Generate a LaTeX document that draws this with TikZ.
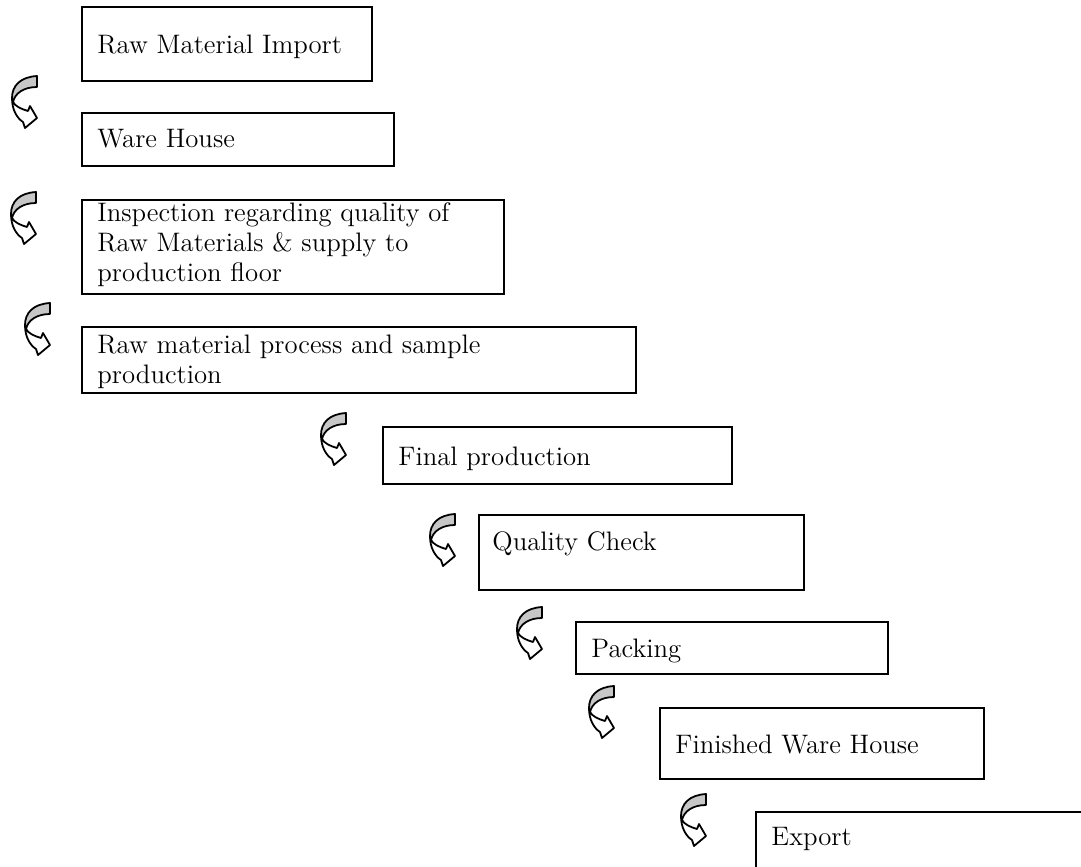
\documentclass[tikz,border=0pt]{standalone}
\usetikzlibrary{fit}

\begin{document}
\begin{tikzpicture}[x=0.449pt, y=-0.449pt,
    stepbox/.style={draw=black, line width=0.9pt, inner sep=0pt},
    steptxt/.style={anchor=north west, inner sep=0pt, align=left, font=\fontsize{12}{13.5}\selectfont, execute at begin node=\strut},
    turnarrow/.pic={
        \filldraw[fill=white, draw=black, line width=0.8pt, line join=round] (0,22) .. controls (0,34) and (5,42) .. (11,46) -- (13,52) -- (25,42) -- (18,30) -- (16,35) .. controls (9,33) and (3,30) .. (1,26) -- cycle;
        \filldraw[fill=black!22, draw=black, line width=0.8pt, line join=round] (25,0) .. controls (8,1) and (0,10) .. (0,22) -- (1,26) .. controls (3,17) and (12,11) .. (25,11) -- cycle;
    }
]
\useasboundingbox (0,0) rectangle (1081,866);

% Boxes
\node[stepbox, fit={(82,7) (372,81)}] (rawimp) {};
\node[steptxt] (rawimptxt) at (97,32) {Raw Material Import};
\node[stepbox, fit={(82,113) (394,166)}] (ware) {};
\node[steptxt] (waretxt) at (97,126) {Ware House};
\node[stepbox, fit={(82,200) (504,294)}] (insp) {};
\node[steptxt] (insptxt) at (97,202) {Inspection regarding quality of\\Raw Materials \& supply to\\production floor};
\node[stepbox, fit={(82,327) (636,393)}] (proc) {};
\node[steptxt] (proctxt) at (97,334) {Raw material process and sample\\production};
\node[stepbox, fit={(383,427) (732,484)}] (final) {};
\node[steptxt] (finaltxt) at (398,444) {Final production};
\node[stepbox, fit={(479,515) (804,590)}] (qc) {};
\node[steptxt] (qctxt) at (492,529) {Quality Check};
\node[stepbox, fit={(576,622) (888,674)}] (pack) {};
\node[steptxt] (packtxt) at (591,636) {Packing};
\node[stepbox, fit={(660,708) (984,779)}] (fwh) {};
\node[steptxt] (fwhtxt) at (675,732) {Finished Ware House};
\node[stepbox, fit={(756,812) (1120,900)}] (exp) {};
\node[steptxt] (exptxt) at (771,824) {Export};

% Arrows
\pic (a1) at (12,76) {turnarrow};
\pic (a2) at (11,192) {turnarrow};
\pic (a3) at (25,303) {turnarrow};
\pic (a4) at (321,413) {turnarrow};
\pic (a5) at (430,514) {turnarrow};
\pic (a6) at (517,607) {turnarrow};
\pic (a7) at (589,686) {turnarrow};
\pic (a8) at (681,794) {turnarrow};
\end{tikzpicture}
\end{document}
